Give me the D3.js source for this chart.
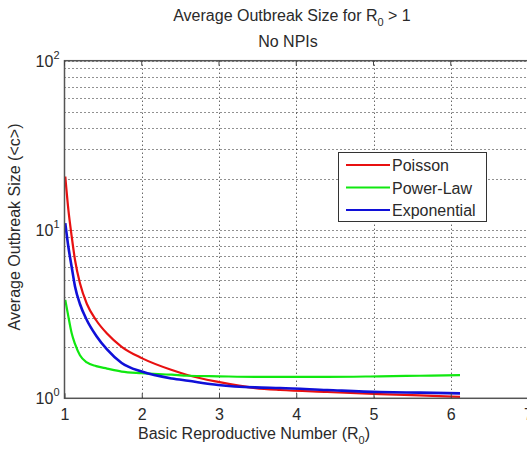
<!DOCTYPE html>
<html>
<head>
<style>
  body { margin: 0; background: #fff; overflow: hidden; }
  text { font-family: "Liberation Sans", Arial, sans-serif; fill: #2a2a2a; }
</style>
</head>
<body>
<svg width="527" height="449"></svg>
<script src="https://cdnjs.cloudflare.com/ajax/libs/d3/7.8.5/d3.min.js"></script>
<script>
// values
var r0 = [1.01, 1.05, 1.093, 1.136, 1.2, 1.29, 1.41, 1.55, 1.74, 2.0, 2.39, 2.6, 2.99, 3.47, 3.79, 4.4, 5.08, 5.6, 6.12];
var poisson = [20.6, 13.1, 9.1, 6.6, 4.8, 3.62, 2.9, 2.42, 2.02, 1.73, 1.47, 1.37, 1.25, 1.15, 1.12, 1.09, 1.06, 1.04, 1.02];
var powerLaw = [3.83, 3.05, 2.43, 2.1, 1.8, 1.63, 1.55, 1.5, 1.44, 1.41, 1.38, 1.36, 1.35, 1.34, 1.34, 1.34, 1.35, 1.36, 1.37];
var exponential = [10.9, 7.9, 6.0, 4.6, 3.62, 2.9, 2.35, 1.95, 1.62, 1.44, 1.31, 1.27, 1.2, 1.16, 1.15, 1.12, 1.09, 1.08, 1.07];
var seriesNames = ["Poisson", "Power-Law", "Exponential"];
var seriesColors = ["#e81010", "#10e810", "#1010d8"];
var xTicks = [1, 2, 3, 4, 5, 6, 7];
var yDecades = [0, 1, 2];

var svg = d3.select("svg");
var pl = 64.5, pr = 528, pt = 60.7, pb = 398.3;

var x = d3.scaleLinear().domain([1, 7]).range([pl, pr]);
var y = d3.scaleLog().domain([1, 100]).range([pb, pt]);

// grid lines (dotted)
var grid = svg.append("g");
var minor = [];
[1, 10].forEach(function(b) { for (var k = 2; k <= 10; k++) minor.push(b * k); });
grid.selectAll("line.hy")
  .data(minor)
  .enter().append("line")
    .attr("x1", pl).attr("x2", pr)
    .attr("y1", function(d) { return Math.round(y(d)) + 0.5; })
    .attr("y2", function(d) { return Math.round(y(d)) + 0.5; })
    .attr("stroke", "#222").attr("stroke-width", 1)
    .attr("stroke-dasharray", "1,3");
grid.selectAll("line.vx")
  .data(xTicks.slice(1, -1))
  .enter().append("line")
    .attr("x1", function(d) { return Math.round(x(d)) + 0.5; })
    .attr("x2", function(d) { return Math.round(x(d)) + 0.5; })
    .attr("y1", pt).attr("y2", pb)
    .attr("stroke", "#222").attr("stroke-width", 1)
    .attr("stroke-dasharray", "1,3");

// series
var line = d3.line()
  .x(function(d) { return x(d[0]); })
  .y(function(d) { return y(d[1]); })
  .curve(d3.curveMonotoneX);
[poisson, powerLaw, exponential].forEach(function(vals, i) {
  svg.append("path")
    .datum(r0.map(function(v, j) { return [v, vals[j]]; }))
    .attr("fill", "none")
    .attr("stroke", seriesColors[i])
    .attr("stroke-width", i == 2 ? 2.6 : 2.2)
    .attr("d", line);
});

// frame
svg.append("rect")
  .attr("x", pl).attr("y", pt)
  .attr("width", pr - pl).attr("height", pb - pt)
  .attr("fill", "none").attr("stroke", "#555").attr("stroke-width", 1.5);

// x axis
var xAxis = svg.append("g")
  .attr("transform", "translate(0," + pb + ")")
  .call(d3.axisBottom(x).tickValues(xTicks).tickSize(-5).tickPadding(10).tickFormat(d3.format("d")));
xAxis.select(".domain").remove();
xAxis.selectAll("line").attr("stroke", "#444");
xAxis.selectAll("text").attr("font-size", 16).attr("font-family", "Liberation Sans, Arial, sans-serif").attr("fill", "#2a2a2a");
svg.selectAll("line.tt")
  .data(xTicks)
  .enter().append("line")
    .attr("x1", function(d) { return x(d); }).attr("x2", function(d) { return x(d); })
    .attr("y1", pt).attr("y2", pt + 5)
    .attr("stroke", "#444");

// y axis labels 10^n
var yl = svg.append("g");
yDecades.forEach(function(p) {
  var t = yl.append("text")
    .attr("x", pl - 5)
    .attr("y", y(Math.pow(10, p)) + 6)
    .attr("text-anchor", "end")
    .attr("font-size", 16);
  t.append("tspan").text("10");
  t.append("tspan").attr("dy", -8).attr("font-size", 11).text(p);
});

// titles
var title = svg.append("text")
  .attr("x", 292).attr("y", 21)
  .attr("text-anchor", "middle").attr("font-size", 16);
title.append("tspan").text("Average Outbreak Size for R");
title.append("tspan").attr("dy", 5).attr("font-size", 11).text("0");
title.append("tspan").attr("dy", -5).text(" > 1");
svg.append("text")
  .attr("x", 288).attr("y", 47)
  .attr("text-anchor", "middle").attr("font-size", 16)
  .text("No NPIs");

var xl = svg.append("text")
  .attr("x", 254).attr("y", 439)
  .attr("text-anchor", "middle").attr("font-size", 16);
xl.append("tspan").text("Basic Reproductive Number (R");
xl.append("tspan").attr("dy", 5).attr("font-size", 11).text("0");
xl.append("tspan").attr("dy", -5).text(")");

svg.append("text")
  .attr("transform", "translate(20,227) rotate(-90)")
  .attr("text-anchor", "middle").attr("font-size", 16)
  .text("Average Outbreak Size (<c>)");

// legend
var lg = svg.append("g");
lg.append("rect")
  .attr("x", 338.5).attr("y", 152.5).attr("width", 148).attr("height", 69)
  .attr("fill", "#fff").attr("stroke", "#333").attr("stroke-width", 1);
seriesNames.forEach(function(n, i) {
  var yy = 165 + i * 22.5;
  lg.append("line")
    .attr("x1", 346).attr("x2", 390).attr("y1", yy).attr("y2", yy)
    .attr("stroke", seriesColors[i]).attr("stroke-width", 2);
  lg.append("text")
    .attr("x", 392).attr("y", yy + 6)
    .attr("font-size", 16).text(n);
});
</script>
</body>
</html>
